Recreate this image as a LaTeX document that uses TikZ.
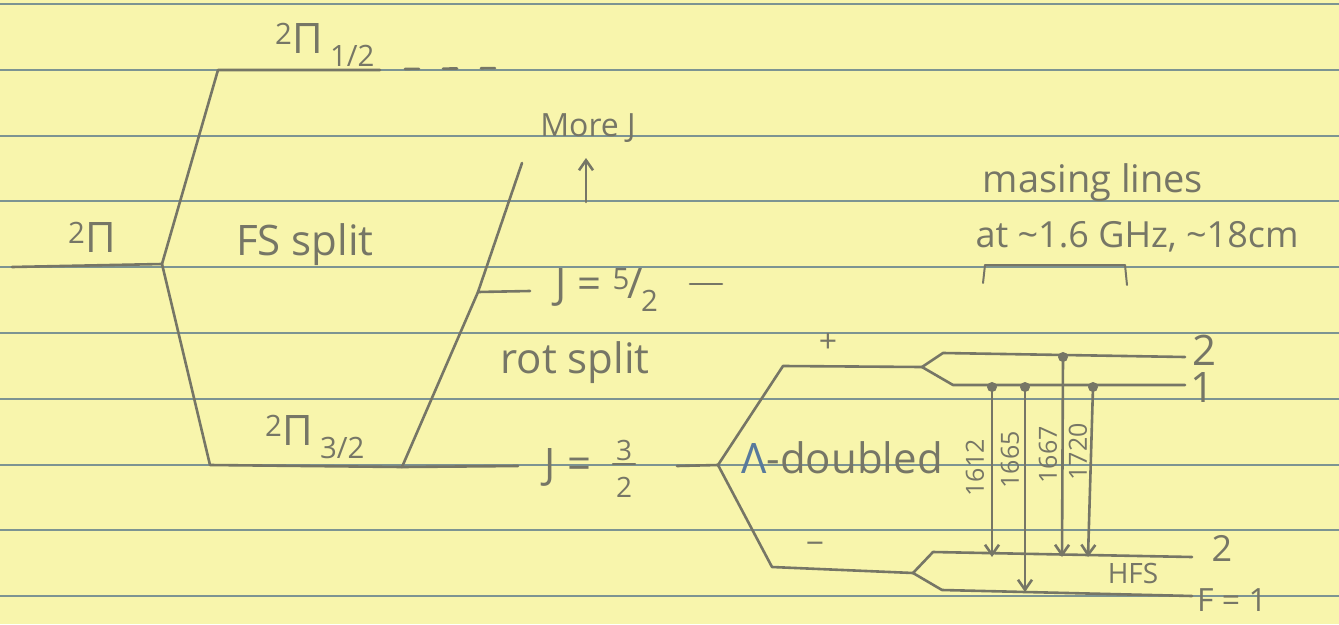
\documentclass[tikz,border=0pt]{standalone}
\usepackage{fontspec}
\setmainfont{Open Sans}
\usetikzlibrary{arrows.meta}
\definecolor{paper}{RGB}{248,245,172}
\definecolor{ruling}{RGB}{125,148,146}
\definecolor{ink}{RGB}{118,118,102}
\definecolor{lamblue}{RGB}{88,122,156}
\begin{document}
\begin{tikzpicture}[x=1pt,y=-1pt,>={Straight Barb[length=10pt,width=14pt]},
level/.style={draw=ink,line width=2.6pt,line cap=round,line join=round},
trans/.style={level,->},
hand/.style={text=ink,inner sep=0pt,font=\fontsize{42}{46}\selectfont},
small/.style={hand,font=\fontsize{32}{34}\selectfont},
freq/.style={hand,rotate=90,font=\fontsize{25}{27}\selectfont},
dot/.style={circle,fill=ink,inner sep=0pt,minimum size=10pt}]
\useasboundingbox (0,0) rectangle (1339,624);
\fill[paper] (0,0) rectangle (1339,624);
\foreach \ry in {4,70,136,201,267,333,399,465,530,596}
  \draw[ruling,line width=1.6pt] (0,\ry)--(1339,\ry);
% fine structure
\coordinate (pia) at (12,267);
\coordinate (pib) at (162,264);
\coordinate (halfa) at (218,70);
\coordinate (halfb) at (380,70);
\coordinate (halfc) at (405,69);
\coordinate (halfd) at (503,68);
\coordinate (threea) at (210,465);
\coordinate (threeb) at (402,467);
\node[hand] (pilab) at (92,237) {\textsuperscript{2}Π};
\node[hand] (pihalf) at (325,45) {\textsuperscript{2}Π\,\textsubscript{1/2}};
\node[hand] (pithree) at (315,437) {\textsuperscript{2}Π\,\textsubscript{3/2}};
\node[hand] (fs) at (305,245) {FS split};
\draw[level] (pia)--(pib)--(halfa)--(halfb);
\draw[level,dash pattern=on 14pt off 24pt] (halfc)--(halfd);
\draw[level] (pib)--(threea)--(threeb);
% rotation
\coordinate (rottop) at (522,163);
\coordinate (fivea) at (478,292);
\coordinate (fiveb) at (530,291);
\coordinate (fivec) at (690,284);
\coordinate (fived) at (722,284);
\coordinate (threej) at (518,466);
\coordinate (threec) at (677,466);
\coordinate (lam) at (718,465);
\node[hand] (jfive) at (607,290) {J = \textsuperscript{5}\kern-2pt/\kern-2pt\textsubscript{2}};
\node[hand] (jthree) at (568,467) {J =};
\node[small,font=\fontsize{28}{30}\selectfont] (jnum) at (624,450) {3};
\node[small,font=\fontsize{28}{30}\selectfont] (jden) at (624,487) {2};
\draw[level,line width=2pt] ([xshift=-3pt,yshift=-4pt]jnum.south west)--([xshift=3pt,yshift=-4pt]jnum.south east);
\node[hand] (rot) at (575,363) {rot split};
\node[small] (morej) at (588,128) {More J};
\coordinate (upa) at (586,202);
\coordinate (upb) at (586,158);
\draw[level] (threeb)--(fivea)--(rottop);
\draw[level] (fivea)--(fiveb);
\draw[level] (fivec)--(fived);
\draw[level] (threeb)--(threej);
\draw[level] (threec)--(lam);
\draw[trans] (upa)--(upb);
% lambda doubling
\coordinate (lamup) at (783,366);
\coordinate (pfork) at (922,367);
\coordinate (lamdn) at (772,567);
\coordinate (mfork) at (913,573);
\node[hand] (lamd) at (842,458) {\textcolor{lamblue}{Λ}-doubled};
\node[small] (plus) at (828,343) {+};
\node[small] (minus) at (815,548) {−};
\draw[level] (lam)--(lamup)--(pfork);
\draw[level] (lam)--(lamdn)--(mfork);
% hyperfine structure
\coordinate (ptwoa) at (943,353);
\coordinate (ptwob) at (1185,357);
\coordinate (ponea) at (953,385);
\coordinate (poneb) at (1185,385);
\coordinate (mtwoa) at (933,552);
\coordinate (mtwob) at (1192,557);
\coordinate (monea) at (942,590);
\coordinate (moneb) at (1192,596);
\draw[level] (pfork)--(ptwoa)--(ptwob);
\draw[level] (pfork)--(ponea)--(poneb);
\draw[level] (mfork)--(mtwoa)--(mtwob);
\draw[level] (mfork)--(monea)--(moneb);
\node[hand] (ptwo) at (1204,350) {2};
\node[hand] (pone) at (1202,388) {1};
\node[small,font=\fontsize{36}{38}\selectfont] (mtwo) at (1222,548) {2};
\node[small] (mone) at (1232,600) {F = 1};
\node[small,font=\fontsize{28}{30}\selectfont] (hfs) at (1133,573) {HFS};
% masing lines
\node[dot] (ta) at (992,387) {};
\node[dot] (tb) at (1025,387) {};
\node[dot] (tc) at (1063,357) {};
\node[dot] (td) at (1093,387) {};
\coordinate (ba) at (992,557);
\coordinate (bb) at (1025,592);
\coordinate (bc) at (1062,557);
\coordinate (bd) at (1088,557);
\draw[trans] (ta.center)--(ba);
\draw[trans] (tb.center)--(bb);
\draw[trans] (tc.center)--(bc);
\draw[trans] (td.center)--(bd);
\node[freq] (fa) at (975,468) {1612};
\node[freq] (fb) at (1010,460) {1665};
\node[freq] (fc) at (1048,455) {1667};
\node[freq] (fd) at (1078,452) {1720};
\node[hand,font=\fontsize{38}{40}\selectfont] (masing) at (1093,183) {masing lines};
\node[hand,font=\fontsize{36}{40}\selectfont] (atghz) at (1137,237) {at \textasciitilde1.6 GHz, \textasciitilde18cm};
\coordinate (bra) at (983,283);
\coordinate (brb) at (985,265);
\coordinate (brc) at (1125,265);
\coordinate (brd) at (1127,285);
\draw[level,line width=2pt] (bra)--(brb)--(brc)--(brd);
\end{tikzpicture}
\end{document}
